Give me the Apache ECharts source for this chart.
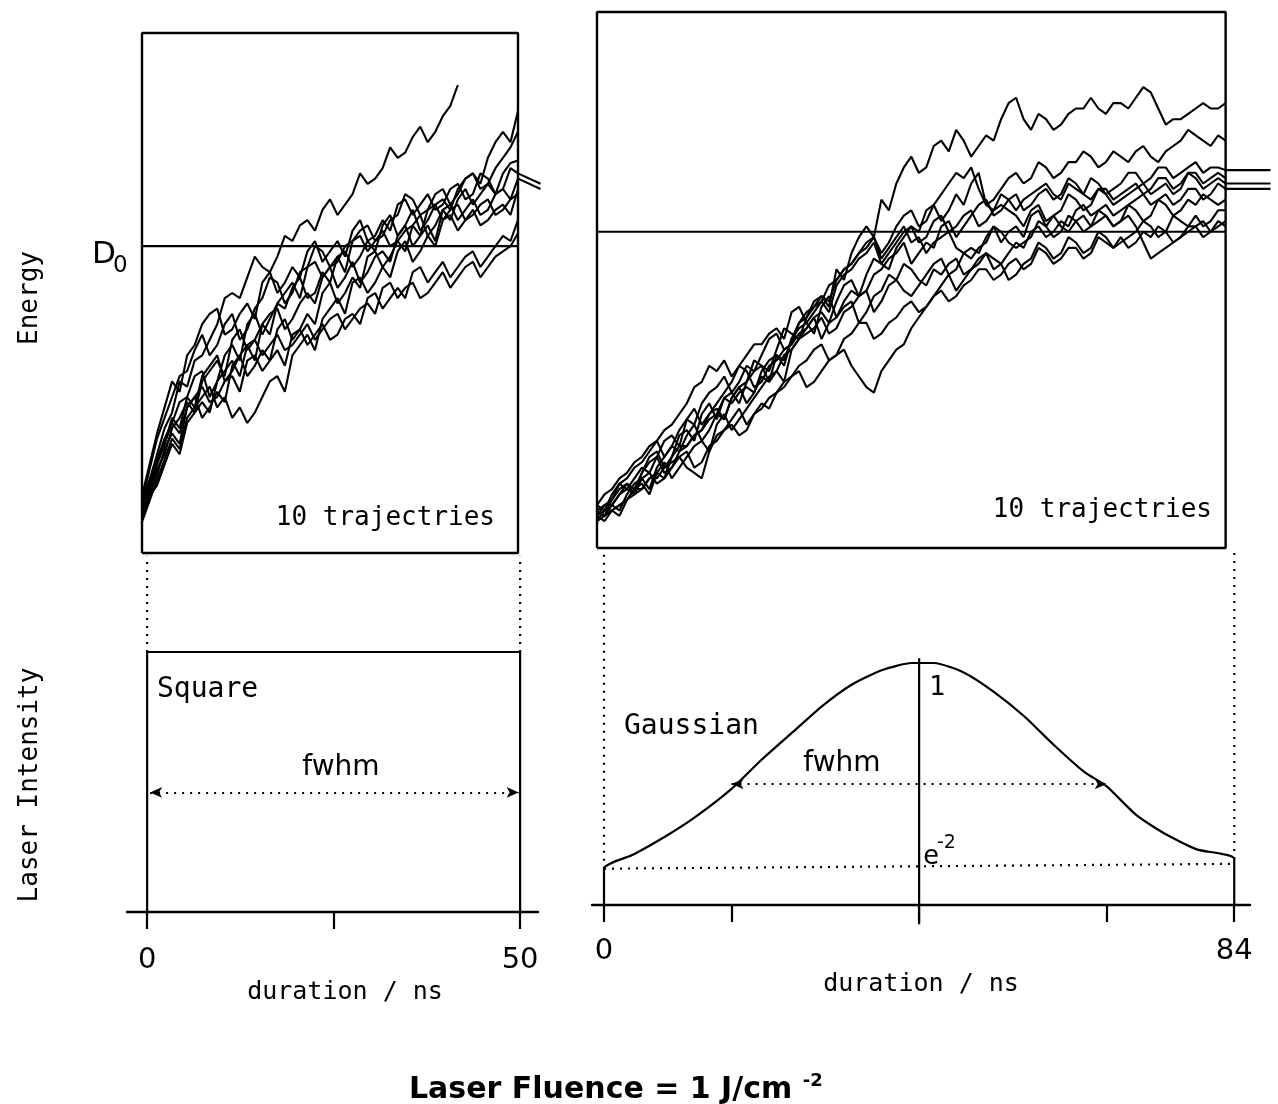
<!DOCTYPE html>
<html><head><meta charset="utf-8">
<script src="https://cdn.jsdelivr.net/npm/echarts@6/dist/echarts.min.js"></script>
<style>html,body{margin:0;padding:0;background:#fff}#c{width:1278px;height:1104px}</style>
</head><body><div id="c"></div>
<script>
// ---------- data ----------
const D0 = 59;                       // dissociation energy level (energy scale 0..100)
// Square pulse (top-left), times in ns; last entry is the overhang past the box
const tLeft = [0,1,2,3,4,5,6,7,8,9,10,11,12,13,14,15,16,17,18,19,20,21,22,23,24,25,26,27,28,29,30,31,32,33,34,35,36,37,38,39,40,41,42,43,44,45,46,47,48,49,50,53];
const trajL1 = [9,14,19,24,27,33,32,37,38,41, 44,49,50,49,53,57,55,54,57,61, 60,63,64,62,66,68,65,67,69,73, 71,72,74,78,76,77,80,82,79,81, 84,86,90];
const trajL2 = [8,12,17,21,26,24,30,34,35,30, 33,38,40,37,44,46,42,45,48,47, 51,53,49,50,54,52,57,58,55,57, 60,58,63,65,61,63,66,62,64,67, 68,66,70,72,73,71,76,79,81,79, 85];
const trajL3 = [10,16,22,26,30,34,35,39,42,38, 40,44,46,41,43,47,49,53,52,48, 50,54,55,59,58,55,56,59,60,62, 63,60,61,64,65,69,68,65,66,69, 70,67,69,72,73,70,71,74,76,78, 81];
const trajL4 = [7,11,15,20,23,21,28,30,26,28, 31,29,36,38,34,36,39,37,43,45, 41,43,46,44,50,52,48,50,53,51, 57,58,55,57,60,58,63,65,61,63, 66,64,68,70,67,69,71,69,73,75, 75.5];
const trajL5 = [11,17,23,28,33,31,38,40,44,46, 47,42,43,46,48,45,52,54,50,52, 55,53,58,60,56,58,60,57,62,64, 60,61,64,62,67,68,65,67,69,66, 67,70,71,68,69,73,72,69,70,74, 73, 71];
const trajL6 = [9,13,18,22,25,29,30,28,34,36, 38,33,35,38,40,37,44,46,47,43, 45,48,50,48,53,55,51,53,56,52, 54,57,58,56,61,63,59,61,63,60, 66,67,64,66,68,65,66,69,70,68, 72, 70];
const trajL7 = [6,10,14,18,22,20,26,28,30,32, 28,30,26,28,25,27,30,33,34,31, 38,40,42,39,45,47,49,46,52,53, 50,52,55,53,58,60,56,58,61,59, 64,65,62,64,66,63,64,66,67,65, 70];
const trajL8 = [8,12,16,19,24,26,29,27,33,35, 37,34,41,43,39,41,44,42,48,50, 52,49,55,56,53,55,57,54,60,61, 58,60,62,59,60,62,63,61,66,67, 64,66,67,64,65,67,68,65,66,68, 69];
const trajL9 = [10,14,18,21,25,23,28,30,32,29, 30,33,34,31,37,38,35,37,39,36, 42,43,40,42,44,41,42,45,46,44, 49,50,47,49,51,49,54,55,52,54, 56,53,55,57,58,55,57,59,61,60, 64];
const trajL10 = [7,11,13,17,21,19,25,27,29,27, 33,35,37,34,40,41,38,40,42,39, 40,42,44,41,43,45,46,43,45,47, 48,46,51,52,49,51,52,49,50,52, 54,51,53,55,56,53,55,57,58,59, 61.5];
// Gaussian pulse (top-right); last time is the overhang past the box
const tRight = [0,1,2,3,4,5,6,7,8,9,10,11,12,13,14,15,16,17,18,19,20,21,22,23,24,25,26,27,28,29,30,31,32,33,34,35,36,37,38,39,40,41,42,43,44,45,46,47,48,49,50,51,52,53,54,55,56,57,58,59,60,61,62,63,64,65,66,67,68,69,70,71,72,73,74,75,76,77,78,79,80,81,82,83,84,90];
const trajR1 = [7,6,9,11,12,10,14,17,18,15, 17,21,22,20,25,27,24,28,29,27, 31,35,34,33,37,41,40,39,43,46, 47,45,52,50,55,58,60,58,65,63, 68,71,73,70,71,75,76,74,78,76, 73,75,77,76,80,83,84,80,78,81, 80,78,79,81,82,82,84,82,81,83, 83,82,84,86,85,82,79,80,80,81, 82,83,82,82,83];
const trajR2 = [6,8,8,7,10,12,13,11,15,17, 19,18,21,23,20,22,25,24,28,30, 27,29,32,31,36,34,39,41,42,40, 45,47,43,46,48,47,51,54,53,52, 56,58,60,59,63,64,61,63,66,64, 68,70,64,65,67,69,70,68,69,72, 71,69,70,72,72,74,73,71,72,74, 73,72,74,75,73,72,74,75,76,78, 77,76,75,77,76];
const trajR3 = [8,7,10,12,13,15,16,18,20,17, 19,22,24,23,27,29,30,32,29,31, 34,33,36,39,40,37,38,42,44,45, 47,46,50,52,53,55,57,58,55,57, 60,62,63,60,61,64,66,68,70,69, 71,67,64,63,66,65,63,65,66,67, 68,66,65,68,67,66,69,68,66,67, 68,70,70,68,69,71,71,69,70,71, 72,70,71,71,70.5, 70.5];
const trajR4 = [5,7,7,6,9,11,12,10,14,16, 13,15,17,19,20,18,23,25,22,24, 26,28,30,32,33,31,37,39,41,43, 44,42,46,49,50,47,48,51,52,54, 55,57,53,55,57,56,60,61,58,60, 62,64,65,62,63,65,66,63,64,66, 67,65,66,69,68,66,65,67,67,65, 66,67,68,66,67,69,69,67,68,70, 70,68,69,70,69];
const trajR5 = [7,8,9,12,11,13,15,14,17,20, 21,19,24,26,23,25,27,29,31,34, 33,30,31,34,35,37,38,40,41,43, 39,42,43,45,46,42,44,47,48,51, 50,48,47,49,51,53,54,51,52,55, 56,55,58,60,57,59,60,58,62,63, 60,62,63,66,65,63,64,67,66,64, 65,66,67,68,66,67,68,66,67,70, 69,67,68,69,68, 68];
const trajR6 = [6,5,7,8,9,10,11,13,13,15, 16,17,15,14,13,18,21,22,24,26, 23,25,27,26,29,31,32,33,30,31, 33,35,36,37,34,32,30,29,33,35, 37,38,41,43,45,47,49,51,48,50, 52,53,55,54,53,55,57,56,59,60, 58,59,61,60,63,64,62,63,64,62, 63,64,65,66,64,65,66,64,65,67, 67,65,66,68,67, 67];
const trajR7 = [8,10,11,13,14,16,17,19,20,22, 23,25,27,30,31,34,33,35,32,34, 36,38,38,40,41,39,44,45,42,44, 46,49,50,52,53,55,56,58,54,56, 58,60,57,58,55,57,58,59,56,55, 54,56,57,60,59,57,56,57,58,61, 60,58,59,62,61,59,60,63,62,60, 61,64,63,61,62,65,64,62,63,65, 64,66,65,64,65];
const trajR8 = [6,7,8,10,12,11,14,16,17,14, 15,18,19,21,22,25,26,24,28,30, 31,33,34,31,33,36,37,39,40,41, 43,40,41,44,45,47,48,44,46,49, 50,53,52,50,49,52,51,53,54,51, 52,54,55,52,53,50,51,53,54,57, 56,54,55,58,57,55,56,59,58,56, 57,58,59,61,60,58,59,62,61,60, 62,60,61,63,63];
const trajR9 = [5,6,7,8,9,11,11,13,14,13, 17,19,19,21,22,24,25,28,27,29, 30,29,33,35,36,35,39,42,43,45, 46,44,49,51,52,54,55,57,53,55, 57,59,60,57,58,61,62,59,60,62, 63,60,61,63,64,63,62,60,63,64, 61,62,60,59,61,62,60,61,62,60, 61,62,60,57,54,55,56,57,58,59, 60,61,59,60,61];
const trajR10 = [7,6,8,10,11,10,13,14,12,13, 15,17,18,15,16,19,20,22,23,21, 22,25,26,28,29,30,32,34,35,37, 38,35,36,39,40,42,42,39,40,42, 43,45,46,44,45,47,48,46,47,49, 50,52,52,50,51,53,54,52,53,56, 55,53,54,56,56,54,55,58,57,56, 58,56,57,59,58,60,59,57,58,60, 60,58,59,61,60];
// Laser pulse shapes (relative intensity)
const squareT = [0, 0, 50, 50];
const squareI = [0, 1, 1, 0];
const gaussT = [0, 0, 4, 8, 12, 17, 21, 25, 29, 33, 37, 41, 44, 48, 52, 56, 60, 64, 67, 71, 75, 79, 84, 84];
const gaussI = [0, 0.15, 0.21, 0.28, 0.36, 0.48, 0.6, 0.71, 0.82, 0.91, 0.97, 1.0, 1.0, 0.96, 0.88, 0.78, 0.66, 0.55, 0.49, 0.37, 0.29, 0.23, 0.19, 0];
const eMinus2 = 0.15;
const fwhmSquare = [0.4, 49.8];
const fwhmGauss = [17, 67];
const gaussCenter = 42;
const squareTicks = [0, 25, 50];
const squareTickLabels = [0, 50];
const gaussTicks = [0, 17, 42, 67, 84];
const gaussTickLabels = [0, 84];

// ---------- chart ----------
const MONO = '"DejaVu Sans Mono"';
const SANS = '"DejaVu Sans"';
const pair = (t, v) => v.map((e, i) => [t[i], e]);
const series = [];
const black = '#000';
const TW = 2.1;

[trajL1,trajL2,trajL3,trajL4,trajL5,trajL6,trajL7,trajL8,trajL9,trajL10].forEach(v => series.push({
  type:'line', xAxisIndex:0, yAxisIndex:0, data: pair(tLeft, v), symbol:'none', clip:false, silent:true,
  lineStyle:{color:black, width:TW}
}));
[trajR1,trajR2,trajR3,trajR4,trajR5,trajR6,trajR7,trajR8,trajR9,trajR10].forEach(v => series.push({
  type:'line', xAxisIndex:1, yAxisIndex:1, data: pair(tRight, v), symbol:'none', clip:false, silent:true,
  lineStyle:{color:black, width:TW}
}));
// panel frames and D0 lines
series.push({type:'line', xAxisIndex:0, yAxisIndex:0, data:[[0,0],[0,100],[50,100],[50,0],[0,0]], symbol:'none', clip:false, lineStyle:{color:black,width:2.4}, silent:true});
series.push({type:'line', xAxisIndex:1, yAxisIndex:1, data:[[0,0],[0,100],[84,100],[84,0],[0,0]], symbol:'none', clip:false, lineStyle:{color:black,width:2.4}, silent:true});
series.push({type:'line', xAxisIndex:0, yAxisIndex:0, data:[[0,D0],[50,D0]], symbol:'none', lineStyle:{color:black,width:2.2}, silent:true});
series.push({type:'line', xAxisIndex:1, yAxisIndex:1, data:[[0,D0],[84,D0]], symbol:'none', lineStyle:{color:black,width:2.2}, silent:true});

const dotted = {color:black, width:2.2, type:[2,6]};
// square pulse
series.push({type:'line', xAxisIndex:2, yAxisIndex:2, data: pair(squareT, squareI), symbol:'none', clip:false, silent:true,
  lineStyle:{color:black, width:2.2},
  markLine:{silent:true, symbol:['arrow','arrow'], symbolSize:[8,12], label:{show:false}, lineStyle:dotted,
    data:[[{coord:[fwhmSquare[0],0.46]},{coord:[fwhmSquare[1],0.46]}]]}
});
// connecting dotted lines (left)
series.push({type:'line', xAxisIndex:2, yAxisIndex:2, data:[[0,1],[0,1.37]], symbol:'none', clip:false, silent:true, lineStyle:dotted});
series.push({type:'line', xAxisIndex:2, yAxisIndex:2, data:[[50,1],[50,1.37]], symbol:'none', clip:false, silent:true, lineStyle:dotted});
// gaussian pulse
series.push({type:'line', xAxisIndex:3, yAxisIndex:3, data: pair(gaussT, gaussI), symbol:'none', clip:false, silent:true, smooth:0.2,
  lineStyle:{color:black, width:2.2},
  markLine:{silent:true, symbol:['arrow','arrow'], symbolSize:[8,12], label:{show:false}, lineStyle:dotted,
    data:[[{coord:[fwhmGauss[0],0.5]},{coord:[fwhmGauss[1],0.5]}]]}
});
series.push({type:'line', xAxisIndex:3, yAxisIndex:3, data:[[0,eMinus2],[84,eMinus2+0.02]], symbol:'none', clip:false, silent:true, lineStyle:dotted});
series.push({type:'line', xAxisIndex:3, yAxisIndex:3, data:[[gaussCenter,-0.08],[gaussCenter,1.02]], symbol:'none', clip:false, silent:true, lineStyle:{color:black,width:2.2}});
series.push({type:'line', xAxisIndex:3, yAxisIndex:3, data:[[0,eMinus2],[0,1.467]], symbol:'none', clip:false, silent:true, lineStyle:dotted});
series.push({type:'line', xAxisIndex:3, yAxisIndex:3, data:[[84,0.19],[84,1.467]], symbol:'none', clip:false, silent:true, lineStyle:dotted});

const hiddenX = (min, max, gi) => ({type:'value', min, max, show:false, gridIndex:gi});
const hiddenY = (min, max, gi) => ({type:'value', min, max, show:false, gridIndex:gi});
const txt = (x, y, text, font, align, extra) => Object.assign({type:'text', x, y, silent:true,
  style:{text, font, fill:'#000', textAlign:align || 'left', textVerticalAlign:'middle'}}, extra || {});

// top panels: x range extended past the frame so trajectory overhangs show
const leftMax = 54, rightMax = 91;
const option = {
  animation:false,
  backgroundColor:'#fff',
  title:{
    text:'{a|Laser Fluence = 1 J/cm }{b|-2}', left:404, top:1067,
    textStyle:{rich:{
      a:{fontFamily:'DejaVu Sans', fontWeight:'bold', fontSize:30, color:'#000'},
      b:{fontFamily:'DejaVu Sans', fontWeight:'bold', fontSize:18, color:'#000', padding:[0,0,18,0]}
    }}
  },
  grid:[
    {left:142, top:33, width:376 * leftMax / 50, height:520},
    {left:597, top:12, width:632 * rightMax / 84, height:536},
    {left:127, top:652, width:411, height:260},
    {left:592, top:663, width:658, height:242}
  ],
  xAxis:[
    hiddenX(0,leftMax,0),
    hiddenX(0,rightMax,1),
    {type:'value', gridIndex:2, min:-2.7, max:52.4, splitLine:{show:false},
      axisLine:{show:true, onZero:false, lineStyle:{color:black, width:2.4}},
      axisTick:{show:true, customValues:squareTicks, length:17, lineStyle:{color:black, width:2.2}},
      axisLabel:{customValues:squareTickLabels, margin:34, fontSize:29, color:'#000', fontFamily:'DejaVu Sans'},
      name:'duration / ns', nameLocation:'middle', nameGap:68,
      nameTextStyle:{fontSize:25, color:'#000', fontFamily:'DejaVu Sans Mono', padding:[0,0,0,25]}},
    {type:'value', gridIndex:3, min:-1.6, max:86.1, splitLine:{show:false},
      axisLine:{show:true, onZero:false, lineStyle:{color:black, width:2.4}},
      axisTick:{show:true, customValues:gaussTicks, length:17, lineStyle:{color:black, width:2.2}},
      axisLabel:{customValues:gaussTickLabels, margin:32, fontSize:29, color:'#000', fontFamily:'DejaVu Sans'},
      name:'duration / ns', nameLocation:'middle', nameGap:67,
      nameTextStyle:{fontSize:25, color:'#000', fontFamily:'DejaVu Sans Mono', padding:[0,0,0,0]}}
  ],
  yAxis:[hiddenY(0,100,0), hiddenY(0,100,1), hiddenY(0,1,2), hiddenY(0,1,3)],
  series,
  graphic:[
    txt(30, 298, 'Energy', '26px ' + MONO, 'center', {rotation:Math.PI/2}),
    txt(30, 785, 'Laser Intensity', '26px ' + MONO, 'center', {rotation:Math.PI/2}),
    txt(92, 255, 'D', '31px ' + SANS, 'left'),
    txt(113, 266, '0', '23px ' + SANS, 'left'),
    txt(495, 518, '10 trajectries', '26px ' + MONO, 'right'),
    txt(1212, 510, '10 trajectries', '26px ' + MONO, 'right'),
    txt(157, 690, 'Square', '28px ' + MONO, 'left'),
    txt(341, 768, 'fwhm', '28px ' + SANS, 'center'),
    txt(624, 727, 'Gaussian', '28px ' + MONO, 'left'),
    txt(842, 764, 'fwhm', '28px ' + SANS, 'center'),
    txt(929, 688, '1', '27px ' + MONO, 'left'),
    txt(923, 857, 'e', '27px ' + MONO, 'left'),
    txt(937, 843, '-2', '19px ' + SANS, 'left')
  ]
};
const chart = echarts.init(document.getElementById('c'), null, {renderer:'canvas'});
chart.setOption(option);
</script></body></html>
